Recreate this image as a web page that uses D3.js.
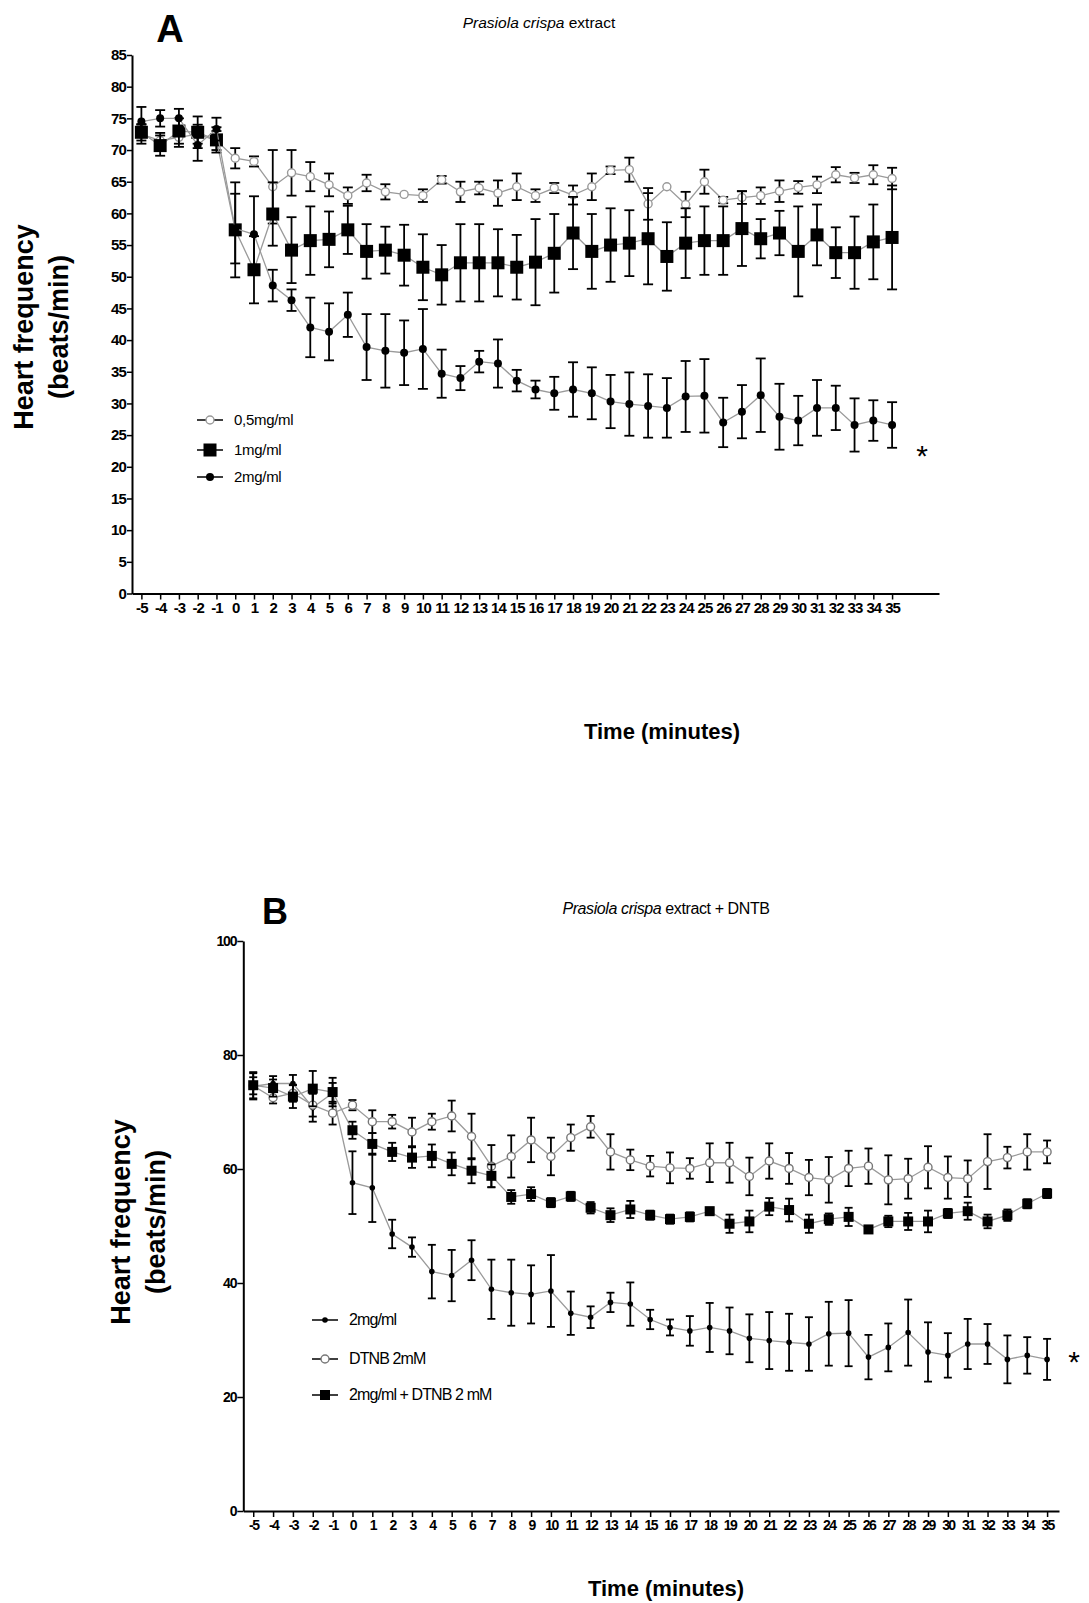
<!DOCTYPE html>
<html>
<head>
<meta charset="utf-8">
<script src="https://cdn.jsdelivr.net/npm/d3@7"></script>
<style>
  body { margin: 0; background: #fff; }
  svg text { font-family: Arial, "Liberation Sans", sans-serif; }
</style>
</head>
<body>
<script>
// minutes on the x axis (both panels)
const minutes = [-5, -4, -3, -2, -1, 0, 1, 2, 3, 4, 5, 6, 7, 8, 9, 10, 11, 12, 13, 14, 15,
  16, 17, 18, 19, 20, 21, 22, 23, 24, 25, 26, 27, 28, 29, 30, 31, 32, 33, 34, 35];

// panel A
const ticksA = [0, 5, 10, 15, 20, 25, 30, 35, 40, 45, 50, 55, 60, 65, 70, 75, 80, 85];
const mean05 = [72.5, 71.5, 72.0, 72.5, 71.5, 68.7, 68.2, 64.2, 66.4, 65.8, 64.5, 62.8, 64.8, 63.4, 63.0, 62.8,
  65.3, 63.4, 64.0, 63.2, 64.2, 62.8, 64.0, 62.9, 64.2, 66.8, 66.9, 61.5, 64.2, 61.4, 65.0, 62.1, 62.5, 62.8,
  63.5, 64.1, 64.5, 66.1, 65.6, 66.1, 65.5];
const err05 = [1.5, 1.2, 1.5, 1.5, 1.5, 1.6, 0.8, 5.8, 3.6, 2.3, 1.8, 1.3, 1.3, 1.2, 0, 1.0, 0.6, 1.6, 1.0, 2.0,
  2.1, 1.0, 0.8, 1.5, 2.1, 0.6, 1.9, 2.5, 0, 2.0, 1.9, 0.5, 1.0, 1.3, 1.7, 1.0, 1.3, 1.2, 0.8, 1.5, 1.7];
const mean1 = [72.8, 70.7, 73.0, 72.8, 71.6, 57.4, 51.1, 59.9, 54.2, 55.7, 55.9, 57.4, 54.0, 54.2, 53.4, 51.5,
  50.3, 52.2, 52.2, 52.2, 51.5, 52.3, 53.7, 56.9, 54.0, 55.0, 55.3, 56.0, 53.2, 55.3, 55.7, 55.7, 57.6, 56.0,
  56.9, 54.0, 56.6, 53.8, 53.8, 55.5, 56.2];
const err1 = [1.3, 1.6, 2.0, 2.5, 2.0, 7.5, 5.3, 5.0, 5.2, 5.4, 4.4, 3.8, 4.3, 3.7, 4.8, 5.2, 4.7, 6.1, 6.1, 5.3,
  5.1, 6.8, 6.2, 5.7, 5.9, 5.8, 5.2, 7.2, 5.4, 5.5, 5.4, 5.4, 5.9, 3.1, 3.5, 7.1, 4.8, 4.0, 5.7, 5.9, 8.2];
const mean2 = [74.5, 75.0, 75.0, 70.8, 73.3, 57.6, 56.7, 48.6, 46.3, 42.0, 41.3, 44.0, 38.9, 38.3, 38.0, 38.6,
  34.7, 34.0, 36.6, 36.3, 33.6, 32.2, 31.6, 32.2, 31.6, 30.3, 29.9, 29.6, 29.3, 31.1, 31.2, 27.0, 28.7, 31.3,
  27.9, 27.3, 29.3, 29.3, 26.6, 27.3, 26.6];
const err2 = [2.3, 1.3, 1.5, 2.5, 1.8, 5.5, 6.0, 2.5, 1.7, 4.7, 4.5, 3.5, 5.2, 5.8, 5.1, 6.3, 3.8, 1.9, 1.7, 3.8,
  1.7, 1.4, 2.6, 4.3, 4.1, 4.2, 5.0, 5.0, 4.7, 5.6, 5.8, 3.9, 4.2, 5.8, 5.2, 3.9, 4.4, 3.5, 4.2, 3.2, 3.6];

// panel B
const ticksB = [0, 20, 40, 60, 80, 100];
const meanDtnb = [74.6, 72.5, 73.3, 71.2, 69.8, 71.2, 68.3, 68.3, 66.5, 68.3, 69.3, 65.7, 60.5, 62.2, 65.1, 62.2,
  65.5, 67.4, 63.0, 61.6, 60.5, 60.2, 60.1, 61.1, 61.1, 58.7, 61.4, 60.1, 58.5, 58.1, 60.1, 60.5, 58.1, 58.3,
  60.3, 58.5, 58.3, 61.3, 62.0, 63.0, 63.0];
const errDtnb = [1.5, 1.0, 1.5, 2.0, 2.0, 0.9, 2.0, 1.2, 2.5, 1.4, 2.7, 4.0, 3.7, 3.7, 3.9, 3.3, 2.3, 1.9, 3.1,
  1.8, 1.8, 2.7, 1.8, 3.4, 3.5, 3.3, 3.1, 2.7, 3.1, 4.0, 3.1, 3.1, 4.3, 3.5, 3.7, 3.7, 3.2, 4.8, 1.9, 3.1, 2.0];
const meanMix = [74.7, 74.2, 72.7, 74.1, 73.5, 66.8, 64.4, 63.0, 62.0, 62.3, 60.9, 59.7, 58.8, 55.1, 55.6, 54.1,
  55.2, 53.2, 51.9, 52.9, 51.9, 51.2, 51.6, 52.6, 50.4, 50.8, 53.4, 52.8, 50.4, 51.2, 51.6, 49.4, 50.8, 50.8,
  50.8, 52.2, 52.6, 50.8, 51.9, 53.9, 55.7];
const errMix = [2.3, 1.5, 2.0, 3.1, 2.5, 1.5, 1.9, 1.6, 1.8, 2.0, 2.0, 2.2, 2.0, 1.2, 1.2, 0.8, 0.8, 1.0, 1.2,
  1.5, 0.8, 0.8, 0.8, 0.6, 1.6, 1.9, 1.5, 2.0, 1.6, 1.0, 1.6, 0.5, 1.0, 1.5, 1.9, 0.8, 1.5, 1.2, 1.0, 0.8, 0.8];

const svg = d3.select('body').append('svg').attr('width', 1089).attr('height', 1603);

// marker drawing
function marker(g, type, cx, cy, big) {
  if (type === 'open') {
    g.append('circle').attr('cx', cx).attr('cy', cy).attr('r', 4)
      .attr('fill', '#fff').attr('stroke', big ? '#999' : '#777').attr('stroke-width', 1.4);
  } else if (type === 'square') {
    const s = big ? 13 : 10;
    g.append('rect').attr('x', cx - s / 2).attr('y', cy - s / 2).attr('width', s).attr('height', s).attr('fill', '#000');
  } else {
    g.append('circle').attr('cx', cx).attr('cy', cy).attr('r', big ? 4 : 2.8).attr('fill', '#000');
  }
}

function drawSeries(g, x, y, values, errs, type, big) {
  const pts = minutes.map((m, i) => ({ m, v: values[i], e: errs[i] }));
  const line = d3.line().x(d => x(d.m)).y(d => y(d.v));
  g.append('path').datum(pts).attr('d', line).attr('fill', 'none').attr('stroke', '#9a9a9a').attr('stroke-width', 1.3);
  const cap = big ? 5 : 4;
  pts.forEach(d => {
    if (d.e <= 0) return;
    const cx = x(d.m), y1 = y(d.v + d.e), y2 = y(d.v - d.e);
    g.append('line').attr('x1', cx).attr('x2', cx).attr('y1', y1).attr('y2', y2).attr('stroke', '#000').attr('stroke-width', 1.8);
    [y1, y2].forEach(yy => g.append('line').attr('x1', cx - cap).attr('x2', cx + cap).attr('y1', yy).attr('y2', yy)
      .attr('stroke', '#000').attr('stroke-width', 1.8));
  });
  pts.forEach(d => marker(g, type, x(d.m), y(d.v), big));
}

function styleAxis(g, size, spacing) {
  g.select('.domain').attr('stroke', '#000').attr('stroke-width', 2);
  g.selectAll('.tick line').attr('stroke', '#000').attr('stroke-width', 1.5);
  g.selectAll('.tick text').attr('fill', '#000').attr('font-weight', 'bold').attr('font-size', size)
    .attr('letter-spacing', spacing);
}

function legend(g, x0, y0s, items, big, fs, ls) {
  items.forEach((it, i) => {
    const yy = y0s[i];
    g.append('line').attr('x1', x0 - 13).attr('x2', x0 + 13).attr('y1', yy).attr('y2', yy)
      .attr('stroke', '#000').attr('stroke-width', 1.5);
    marker(g, it.type, x0, yy, big);
    g.append('text').attr('x', x0 + 24).attr('y', yy + 5).attr('font-size', fs).attr('letter-spacing', ls).text(it.label);
  });
}

function yTitle(cx, cy, size) {
  const t = svg.append('text').attr('transform', `translate(${cx},${cy}) rotate(-90)`)
    .attr('text-anchor', 'middle').attr('font-weight', 'bold').attr('font-size', size);
  t.append('tspan').attr('x', 0).attr('dy', 0).text('Heart frequency');
  t.append('tspan').attr('x', 0).attr('dy', size * 1.3).text('(beats/min)');
}

const plain = d => String(d);

// ---------- Panel A ----------
const xA = d3.scaleLinear().domain([-5.5, 37.5]).range([132, 939]);
const yA = d3.scaleLinear().domain([0, 85]).range([593.5, 55]);
const gA = svg.append('g');

const axA = gA.append('g').attr('transform', `translate(0,${yA(0)})`)
  .call(d3.axisBottom(xA).tickValues(minutes).tickFormat(plain).tickSize(6).tickSizeOuter(0).tickPadding(3));
styleAxis(axA, 15, -0.9);
const ayA = gA.append('g').attr('transform', `translate(${xA(-5.5)},0)`)
  .call(d3.axisLeft(yA).tickValues(ticksA).tickFormat(plain).tickSize(5).tickSizeOuter(0).tickPadding(1));
styleAxis(ayA, 15, -0.9);

drawSeries(gA, xA, yA, mean05, err05, 'open', true);
drawSeries(gA, xA, yA, mean1, err1, 'square', true);
drawSeries(gA, xA, yA, mean2, err2, 'dot', true);

legend(gA, 210, [420, 450, 477], [
  { type: 'open', label: '0,5mg/ml' },
  { type: 'square', label: '1mg/ml' },
  { type: 'dot', label: '2mg/ml' }
], true, 15, -0.3);

gA.append('text').attr('x', 170).attr('y', 42).attr('text-anchor', 'middle')
  .attr('font-weight', 'bold').attr('font-size', 38).text('A');
const tA = gA.append('text').attr('x', 539).attr('y', 28).attr('text-anchor', 'middle').attr('font-size', 15.5);
tA.append('tspan').attr('font-style', 'italic').text('Prasiola crispa');
tA.append('tspan').text(' extract');
gA.append('text').attr('x', 922).attr('y', 466).attr('text-anchor', 'middle').attr('font-size', 30).text('*');
yTitle(33, 327, 27);
gA.append('text').attr('x', 662).attr('y', 739).attr('text-anchor', 'middle')
  .attr('font-weight', 'bold').attr('font-size', 22).text('Time (minutes)');

// ---------- Panel B ----------
const xB = d3.scaleLinear().domain([-5.5, 35.6]).range([243.3, 1059]);
const yB = d3.scaleLinear().domain([0, 100]).range([1511, 941]);
const gB = svg.append('g');

const axB = gB.append('g').attr('transform', `translate(0,${yB(0)})`)
  .call(d3.axisBottom(xB).tickValues(minutes).tickFormat(plain).tickSize(6).tickSizeOuter(0).tickPadding(3));
styleAxis(axB, 14, -1.6);
const ayB = gB.append('g').attr('transform', `translate(${xB(-5.5)},0)`)
  .call(d3.axisLeft(yB).tickValues(ticksB).tickFormat(plain).tickSize(6).tickSizeOuter(0).tickPadding(1));
styleAxis(ayB, 14, -1.2);

drawSeries(gB, xB, yB, mean2, err2, 'dot', false);
drawSeries(gB, xB, yB, meanDtnb, errDtnb, 'open', false);
drawSeries(gB, xB, yB, meanMix, errMix, 'square', false);

legend(gB, 325, [1320, 1359, 1395], [
  { type: 'dot', label: '2mg/ml' },
  { type: 'open', label: 'DTNB 2mM' },
  { type: 'square', label: '2mg/ml + DTNB 2 mM' }
], false, 16, -0.9);

gB.append('text').attr('x', 275).attr('y', 924).attr('text-anchor', 'middle')
  .attr('font-weight', 'bold').attr('font-size', 36).text('B');
const tB = gB.append('text').attr('x', 666).attr('y', 914).attr('text-anchor', 'middle').attr('font-size', 16).attr('letter-spacing', -0.4);
tB.append('tspan').attr('font-style', 'italic').text('Prasiola crispa');
tB.append('tspan').text(' extract + DNTB');
gB.append('text').attr('x', 1074).attr('y', 1372).attr('text-anchor', 'middle').attr('font-size', 30).text('*');
yTitle(130, 1222, 27);
gB.append('text').attr('x', 666).attr('y', 1596).attr('text-anchor', 'middle')
  .attr('font-weight', 'bold').attr('font-size', 22).text('Time (minutes)');
</script>
</body>
</html>
